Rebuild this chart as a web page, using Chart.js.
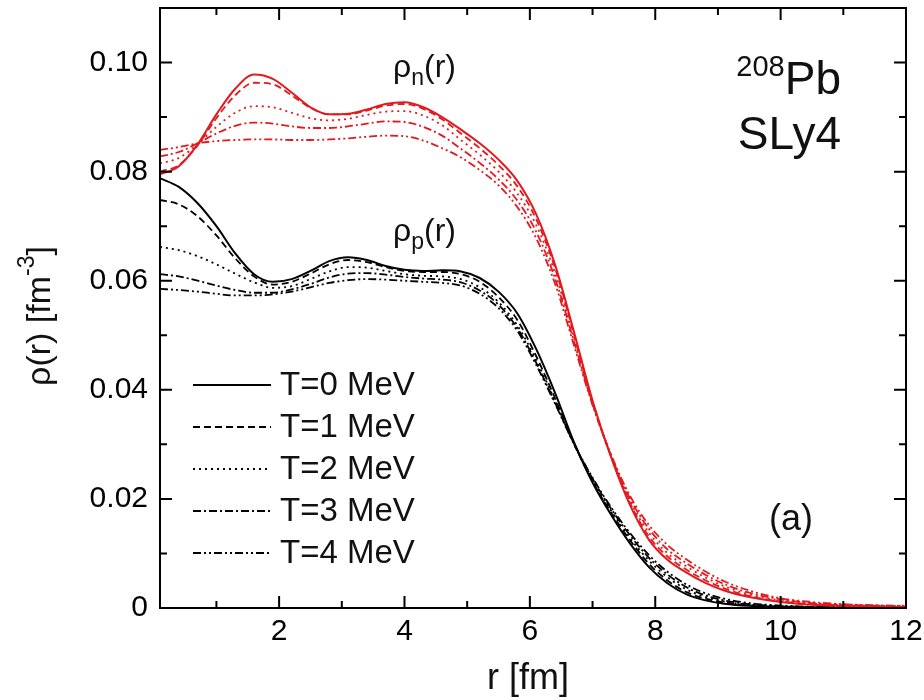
<!DOCTYPE html>
<html>
<head>
<meta charset="utf-8">
<script src="https://cdn.jsdelivr.net/npm/chart.js@4.4.1/dist/chart.umd.min.js"></script>
<style>
  html, body { margin: 0; padding: 0; background: #fff; }
  #wrap { width: 924px; height: 700px; }
</style>
</head>
<body>
<div id="wrap"><canvas id="dens" width="924" height="700"></canvas></div>
<script>
// radial grid, fm
var radius = [0.1, 0.4, 0.7, 1.0, 1.3, 1.6, 1.9, 2.2, 2.5, 2.8, 3.1, 3.4, 3.7, 4.0, 4.3, 4.6, 4.9, 5.2,
  5.5, 5.8, 6.1, 6.4, 6.7, 7.0, 7.3, 7.6, 7.9, 8.2, 8.5, 8.8, 9.1, 9.5, 10, 10.5, 11, 12];

// proton densities, fm^-3
var protonT0 = [0.0788, 0.0772, 0.0742, 0.0700, 0.0650, 0.0612, 0.0598, 0.0603, 0.0618, 0.0636, 0.0643, 0.0638,
  0.0627, 0.0620, 0.0618, 0.0619, 0.0617, 0.0605, 0.0580, 0.0540, 0.0475, 0.0395, 0.0305, 0.0230, 0.0170, 0.0118,
  0.0075, 0.0045, 0.0025, 0.0014, 0.0008, 0.0004, 0.0002, 0.0001, 0.00005, 0.00002];
var protonT1 = [0.0748, 0.0740, 0.0718, 0.0683, 0.0641, 0.0608, 0.0593, 0.0598, 0.0613, 0.0630, 0.0638, 0.0634,
  0.0625, 0.0618, 0.0616, 0.0616, 0.0612, 0.0598, 0.0570, 0.0528, 0.0462, 0.0385, 0.0302, 0.0232, 0.0174, 0.0124,
  0.0081, 0.0050, 0.0029, 0.0017, 0.0010, 0.0005, 0.00025, 0.00012, 0.00006, 0.00002];
var protonT2 = [0.0662, 0.0656, 0.0645, 0.0630, 0.0613, 0.0597, 0.0587, 0.0590, 0.0603, 0.0617, 0.0625, 0.0624,
  0.0618, 0.0612, 0.0609, 0.0608, 0.0603, 0.0588, 0.0561, 0.0518, 0.0455, 0.0380, 0.0302, 0.0235, 0.0178, 0.0128,
  0.0087, 0.0056, 0.0034, 0.0020, 0.0012, 0.0006, 0.0003, 0.00015, 0.00008, 0.00003];
var protonT3 = [0.0612, 0.0608, 0.0600, 0.0591, 0.0583, 0.0578, 0.0578, 0.0584, 0.0594, 0.0606, 0.0613, 0.0614,
  0.0611, 0.0607, 0.0604, 0.0602, 0.0597, 0.0582, 0.0556, 0.0513, 0.0450, 0.0377, 0.0302, 0.0237, 0.0181, 0.0133,
  0.0092, 0.0061, 0.0038, 0.0023, 0.0014, 0.0007, 0.00035, 0.00018, 0.0001, 0.00003];
var protonT4 = [0.0585, 0.0583, 0.0580, 0.0576, 0.0573, 0.0573, 0.0575, 0.0580, 0.0588, 0.0596, 0.0601, 0.0603,
  0.0602, 0.0600, 0.0598, 0.0596, 0.0591, 0.0576, 0.0550, 0.0508, 0.0446, 0.0375, 0.0302, 0.0239, 0.0184, 0.0137,
  0.0097, 0.0066, 0.0043, 0.0027, 0.0017, 0.0009, 0.00045, 0.00022, 0.00012, 0.00004];

// neutron densities, fm^-3
var neutronT0 = [0.0795, 0.0810, 0.0850, 0.0905, 0.0952, 0.0978, 0.0970, 0.0945, 0.0918, 0.0905, 0.0906, 0.0914,
  0.0924, 0.0927, 0.0918, 0.0900, 0.0877, 0.0852, 0.0822, 0.0783, 0.0722, 0.0630, 0.0508, 0.0380, 0.0275, 0.0188,
  0.0125, 0.0088, 0.0065, 0.0046, 0.0032, 0.0020, 0.0011, 0.0006, 0.0004, 0.0002];
var neutronT1 = [0.0800, 0.0812, 0.0848, 0.0898, 0.0940, 0.0963, 0.0960, 0.0940, 0.0917, 0.0905, 0.0905, 0.0912,
  0.0921, 0.0924, 0.0915, 0.0896, 0.0870, 0.0843, 0.0812, 0.0773, 0.0713, 0.0624, 0.0503, 0.0378, 0.0276, 0.0192,
  0.0131, 0.0094, 0.0070, 0.0051, 0.0036, 0.0022, 0.0012, 0.0007, 0.0005, 0.0002];
var neutronT2 = [0.0815, 0.0825, 0.0850, 0.0882, 0.0908, 0.0920, 0.0918, 0.0908, 0.0898, 0.0894, 0.0897, 0.0904,
  0.0910, 0.0911, 0.0903, 0.0885, 0.0858, 0.0831, 0.0800, 0.0760, 0.0702, 0.0615, 0.0497, 0.0376, 0.0277, 0.0196,
  0.0138, 0.0100, 0.0076, 0.0056, 0.0040, 0.0025, 0.0014, 0.0008, 0.0005, 0.0002];
var neutronT3 = [0.0828, 0.0836, 0.0852, 0.0870, 0.0884, 0.0890, 0.0888, 0.0883, 0.0880, 0.0880, 0.0883, 0.0888,
  0.0892, 0.0891, 0.0882, 0.0866, 0.0842, 0.0816, 0.0786, 0.0747, 0.0690, 0.0605, 0.0490, 0.0374, 0.0278, 0.0200,
  0.0145, 0.0107, 0.0082, 0.0061, 0.0044, 0.0028, 0.0016, 0.0009, 0.0006, 0.0003];
var neutronT4 = [0.0840, 0.0845, 0.0852, 0.0856, 0.0858, 0.0859, 0.0859, 0.0858, 0.0858, 0.0859, 0.0861, 0.0864,
  0.0866, 0.0865, 0.0857, 0.0843, 0.0826, 0.0803, 0.0775, 0.0735, 0.0678, 0.0595, 0.0483, 0.0372, 0.0280, 0.0205,
  0.0152, 0.0115, 0.0089, 0.0067, 0.0049, 0.0032, 0.0018, 0.0011, 0.0007, 0.0004];

var tempLabels = ['T=0 MeV', 'T=1 MeV', 'T=2 MeV', 'T=3 MeV', 'T=4 MeV'];
var xTicks = [2, 4, 6, 8, 10, 12];
var xMinor = [1, 3, 5, 7, 9, 11];
var yTicks = [0, 0.02, 0.04, 0.06, 0.08, 0.10];
var yMinor = [0.01, 0.03, 0.05, 0.07, 0.09];

var FONT = "'Liberation Sans', Arial, Helvetica, sans-serif";
var RED = '#e3191e';
var dashes = [[], [7, 4], [2, 4], [8, 3, 2, 3], [8, 3, 2, 3, 2, 3]];

function pts(arr) {
  return radius.map(function (r, i) { return { x: r, y: arr[i] }; });
}

var protons = [protonT0, protonT1, protonT2, protonT3, protonT4];
var neutrons = [neutronT0, neutronT1, neutronT2, neutronT3, neutronT4];
var datasets = [];
for (var i = 0; i < 5; i++) {
  datasets.push({
    label: 'n ' + tempLabels[i], data: pts(neutrons[i]), borderColor: RED,
    borderWidth: i == 0 ? 2 : 1.8, borderDash: dashes[i]
  });
}
for (var i = 0; i < 5; i++) {
  datasets.push({
    label: 'p ' + tempLabels[i], data: pts(protons[i]), borderColor: '#000',
    borderWidth: i == 0 ? 2 : 1.8, borderDash: dashes[i]
  });
}

// draws text with a sub/superscript piece, returns end x
function richText(ctx, parts, x, y) {
  for (var k = 0; k < parts.length; k++) {
    var p = parts[k];
    ctx.font = p.size + 'px ' + FONT;
    ctx.fillText(p.t, x, y + (p.dy || 0));
    x += ctx.measureText(p.t).width;
  }
  return x;
}
function richWidth(ctx, parts) {
  var w = 0;
  for (var k = 0; k < parts.length; k++) {
    ctx.font = parts[k].size + 'px ' + FONT;
    w += ctx.measureText(parts[k].t).width;
  }
  return w;
}

// no extra room for the end tick labels
function noPad(ax) {
  ax.paddingTop = 0; ax.paddingBottom = 0;
  ax.paddingLeft = 0; ax.paddingRight = 0;
}

var framePlugin = {
  id: 'frame',
  afterDraw: function (chart) {
    var ctx = chart.ctx, a = chart.chartArea;
    var xs = chart.scales.x, ys = chart.scales.y;
    ctx.save();
    ctx.strokeStyle = '#000';
    ctx.lineWidth = 2;
    ctx.setLineDash([]);
    ctx.strokeRect(a.left, a.top, a.right - a.left, a.bottom - a.top);

    ctx.beginPath();
    function xt(v, len) {
      var px = xs.getPixelForValue(v);
      ctx.moveTo(px, a.bottom); ctx.lineTo(px, a.bottom - len);
      ctx.moveTo(px, a.top); ctx.lineTo(px, a.top + len);
    }
    function yt(v, len) {
      var py = ys.getPixelForValue(v);
      ctx.moveTo(a.left, py); ctx.lineTo(a.left + len, py);
      ctx.moveTo(a.right, py); ctx.lineTo(a.right - len, py);
    }
    xTicks.forEach(function (v) { xt(v, 12); });
    xMinor.forEach(function (v) { xt(v, 7); });
    yTicks.forEach(function (v) { yt(v, 12); });
    yMinor.forEach(function (v) { yt(v, 7); });
    ctx.stroke();

    ctx.fillStyle = '#000';
    ctx.textBaseline = 'alphabetic';
    ctx.textAlign = 'left';

    // curve labels
    ctx.fillStyle = '#111';
    richText(ctx, [{ t: 'ρ', size: 32 }, { t: 'n', size: 23, dy: 8 }, { t: '(r)', size: 32 }], 393, 77);
    richText(ctx, [{ t: 'ρ', size: 32 }, { t: 'p', size: 23, dy: 8 }, { t: '(r)', size: 32 }], 393, 241);

    // nucleus and force
    var pb = [{ t: '208', size: 29, dy: -18 }, { t: 'Pb', size: 46 }];
    richText(ctx, pb, 841 - richWidth(ctx, pb), 94);
    ctx.font = '46px ' + FONT;
    ctx.textAlign = 'right';
    ctx.fillText('SLy4', 841, 149);
    ctx.textAlign = 'left';
    ctx.font = '36px ' + FONT;
    ctx.fillText('(a)', 769, 530);

    // line-style key
    var rowY = [385, 427, 469, 511, 553];
    for (var i = 0; i < 5; i++) {
      ctx.beginPath();
      ctx.lineWidth = 1.8;
      ctx.strokeStyle = '#000';
      ctx.setLineDash(dashes[i]);
      ctx.moveTo(193, rowY[i]);
      ctx.lineTo(271, rowY[i]);
      ctx.stroke();
      ctx.setLineDash([]);
      ctx.font = '33px ' + FONT;
      ctx.textBaseline = 'middle';
      ctx.fillText(tempLabels[i], 280, rowY[i] + 1);
    }
    ctx.textBaseline = 'alphabetic';

    // axis titles
    ctx.font = '36px ' + FONT;
    ctx.textAlign = 'center';
    ctx.fillText('r [fm]', (a.left + a.right) / 2 - 5, 689);
    ctx.textAlign = 'left';
    var yt2 = [{ t: 'ρ(r) [fm', size: 34 }, { t: '-3', size: 23, dy: -16 }, { t: ']', size: 34 }];
    var w = richWidth(ctx, yt2);
    ctx.translate(50, 316);
    ctx.rotate(-Math.PI / 2);
    richText(ctx, yt2, -w / 2, 0);
    ctx.restore();
  }
};

new Chart(document.getElementById('dens'), {
  type: 'line',
  data: { datasets: datasets },
  options: {
    responsive: false,
    animation: false,
    devicePixelRatio: 1,
    layout: { padding: { top: 8, right: 18, left: 0, bottom: 0 } },
    elements: {
      point: { radius: 0 },
      line: { cubicInterpolationMode: 'monotone', fill: false, borderCapStyle: 'butt' }
    },
    plugins: { legend: { display: false }, tooltip: { enabled: false } },
    scales: {
      x: {
        type: 'linear', min: 0.1, max: 12,
        grid: { display: false, drawTicks: false },
        border: { display: false },
        afterBuildTicks: function (ax) { ax.ticks = xTicks.map(function (v) { return { value: v }; }); },
        afterFit: function (ax) { ax.height = 92; noPad(ax); },
        ticks: { color: '#000', padding: 6, maxRotation: 0, font: { size: 30, family: FONT } }
      },
      y: {
        type: 'linear', min: 0, max: 0.11,
        grid: { display: false, drawTicks: false },
        border: { display: false },
        afterBuildTicks: function (ax) { ax.ticks = yTicks.map(function (v) { return { value: v }; }); },
        afterFit: function (ax) { ax.width = 160; noPad(ax); },
        ticks: {
          color: '#000', padding: 12, font: { size: 30, family: FONT },
          callback: function (v) { return v === 0 ? '0' : v.toFixed(2); }
        }
      }
    }
  },
  plugins: [framePlugin]
});
</script>
</body>
</html>
